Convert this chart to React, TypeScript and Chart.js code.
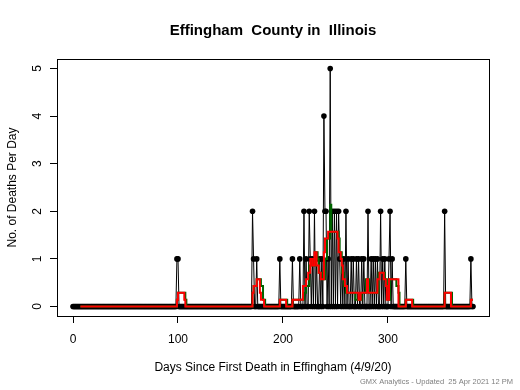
import React, { useEffect, useRef } from "react";
import { Chart, registerables } from "chart.js";

Chart.register(...registerables);

const TITLE = "Effingham  County in  Illinois";
const X_LABEL = "Days Since First Death in Effingham (4/9/20)";
const Y_LABEL = "No. of Deaths Per Day";
const FOOTER = "GMX Analytics - Updated  25 Apr 2021 12 PM";

const FIRST_DAY = 0;
const LAST_DAY = 381;

// days with at least one death, and the count on that day (all other days: 0)
const deathDays = [99, 100, 171, 172, 175, 197, 209, 216, 220, 222, 225, 226, 228, 230, 232, 235, 237, 239, 240, 241, 243, 245, 247, 249, 251, 253, 254, 256, 258, 260, 262, 265, 267, 270, 272, 275, 277, 281, 284, 286, 288, 290, 293, 295, 297, 301, 302, 304, 317, 354, 379];
const deathCounts = [1, 1, 2, 1, 1, 1, 1, 1, 2, 1, 2, 1, 1, 2, 1, 1, 1, 4, 2, 2, 1, 5, 2, 2, 2, 2, 1, 1, 1, 2, 1, 1, 1, 1, 1, 1, 1, 2, 1, 1, 1, 1, 2, 1, 1, 1, 2, 1, 1, 2, 1];

// red step line: day where the level changes, and the new level
const redDays = [7, 99, 100, 106, 107, 171, 172, 175, 178, 179, 182, 197, 203, 209, 219, 222, 224, 226, 228, 230, 232, 234, 236, 239, 240, 243, 252, 253, 255, 256, 257, 259, 261, 268, 272, 274, 280, 281, 290, 292, 296, 298, 299, 301, 310, 317, 323, 354, 360, 379, 381];
const redValues = [0, 0.14, 0.29, 0.14, 0, 0.29, 0.43, 0.57, 0.29, 0.14, 0, 0.14, 0, 0.14, 0.43, 0.57, 0.71, 1.0, 0.86, 1.14, 0.86, 0.71, 0.57, 1.14, 1.43, 1.57, 1.43, 1.14, 1.0, 0.86, 0.57, 0.43, 0.29, 0.29, 0.14, 0.29, 0.57, 0.29, 0.57, 0.71, 0.57, 0.43, 0.14, 0.57, 0, 0.14, 0, 0.29, 0, 0.14, 0.14];

// green step line
const greenDays = [7, 99, 100, 107, 108, 171, 172, 175, 178, 179, 181, 183, 197, 204, 209, 220, 222, 225, 227, 229, 231, 233, 234, 236, 238, 240, 242, 245, 246, 248, 253, 254, 256, 258, 260, 262, 269, 273, 275, 279, 282, 289, 291, 297, 299, 300, 302, 308, 310, 311, 317, 324, 354, 361, 379, 381];
const greenValues = [0, 0.14, 0.29, 0.14, 0, 0.29, 0.43, 0.57, 0.57, 0.43, 0.14, 0, 0.14, 0, 0.14, 0.29, 0.43, 0.86, 1.0, 0.86, 1.14, 1.0, 0.71, 0.71, 0.57, 1.0, 1.43, 2.14, 1.57, 1.57, 1.43, 1.14, 0.71, 0.43, 0.29, 0.29, 0.14, 0.14, 0.29, 0.57, 0.29, 0.29, 0.71, 0.57, 0.43, 0.14, 0.57, 0.43, 0.29, 0, 0.14, 0, 0.29, 0, 0.14, 0.14];

const xTicks = [0, 100, 200, 300];
const yTicks = [0, 1, 2, 3, 4, 5];

const FONT = '"Liberation Sans", Arial, Helvetica, sans-serif';

function buildDaily() {
  const lookup = new Map<number, number>();
  deathDays.forEach((d, i) => lookup.set(d, deathCounts[i]));
  const out: { x: number; y: number }[] = [];
  for (let d = FIRST_DAY; d <= LAST_DAY; d++) out.push({ x: d, y: lookup.get(d) ?? 0 });
  return out;
}

const decor = {
  id: "decor",
  afterDraw(chart: any) {
    const { ctx, chartArea: a } = chart;
    ctx.save();
    ctx.strokeStyle = "#000";
    ctx.lineWidth = 1;
    ctx.strokeRect(Math.round(a.left) + 0.5, Math.round(a.top) + 0.5, Math.round(a.right - a.left), Math.round(a.bottom - a.top));
    const cx = (a.left + a.right) / 2;
    ctx.fillStyle = "#000";
    ctx.textAlign = "center";
    ctx.textBaseline = "middle";
    ctx.font = `bold 15px ${FONT}`;
    ctx.fillText(TITLE, cx, 31);
    ctx.font = `12px ${FONT}`;
    ctx.fillText(X_LABEL, cx, 368);
    ctx.save();
    ctx.translate(13, (a.top + a.bottom) / 2);
    ctx.rotate(-Math.PI / 2);
    ctx.fillText(Y_LABEL, 0, 0);
    ctx.restore();
    const ys = chart.scales.y;
    for (const v of yTicks) {
      ctx.save();
      ctx.translate(38, ys.getPixelForValue(v));
      ctx.rotate(-Math.PI / 2);
      ctx.fillText(String(v), 0, 0);
      ctx.restore();
    }
    ctx.font = `7.5px ${FONT}`;
    ctx.fillStyle = "#808080";
    ctx.textAlign = "right";
    ctx.fillText(FOOTER, 513, 382);
    ctx.restore();
  },
};

export default function App() {
  const ref = useRef<HTMLCanvasElement | null>(null);
  useEffect(() => {
    if (!ref.current) return;
    const chart = new Chart(ref.current, {
      type: "line",
      data: {
        datasets: [
          {
            label: "red",
            data: redDays.map((d, i) => ({ x: d, y: redValues[i] })),
            borderColor: "#FF0000",
            borderWidth: 2,
            pointRadius: 0,
            stepped: "before",
            order: 0,
          },
          {
            label: "green",
            data: greenDays.map((d, i) => ({ x: d, y: greenValues[i] })),
            borderColor: "#006400",
            borderWidth: 2,
            pointRadius: 0,
            stepped: "before",
            order: 1,
          },
          {
            label: "deaths",
            data: buildDaily(),
            borderColor: "#000",
            borderWidth: 1,
            pointRadius: 2.8,
            pointBackgroundColor: "#000",
            pointBorderWidth: 0,
            order: 2,
          },
        ],
      } as any,
      options: {
        responsive: false,
        animation: false,
        devicePixelRatio: 1,
        layout: { padding: { top: 59, right: 31, left: 0, bottom: 0 } },
        plugins: { legend: { display: false }, tooltip: { enabled: false }, title: { display: false } },
        scales: {
          x: {
            type: "linear",
            min: -15.24,
            max: 396.24,
            afterBuildTicks: (s: any) => { s.ticks = xTicks.map((v) => ({ value: v })); },
            afterFit: (s: any) => { s.height = 74; },
            border: { display: false },
            grid: { drawOnChartArea: false, drawTicks: true, tickLength: 7, color: "#000" },
            ticks: { color: "#000", font: { family: FONT, size: 12 }, padding: 9, maxRotation: 0, autoSkip: false },
          },
          y: {
            type: "linear",
            min: -0.2,
            max: 5.2,
            afterBuildTicks: (s: any) => { s.ticks = yTicks.map((v) => ({ value: v })); },
            afterFit: (s: any) => { s.width = 57; },
            border: { display: false },
            grid: { drawOnChartArea: false, drawTicks: true, tickLength: 7, color: "#000" },
            ticks: { display: false },
          },
        },
      } as any,
      plugins: [decor],
    });
    return () => chart.destroy();
  }, []);
  return (
    <div style={{ position: "absolute", left: 0, top: 0, width: 520, height: 390, background: "#fff" }}>
      <canvas ref={ref} width={520} height={390} />
    </div>
  );
}
